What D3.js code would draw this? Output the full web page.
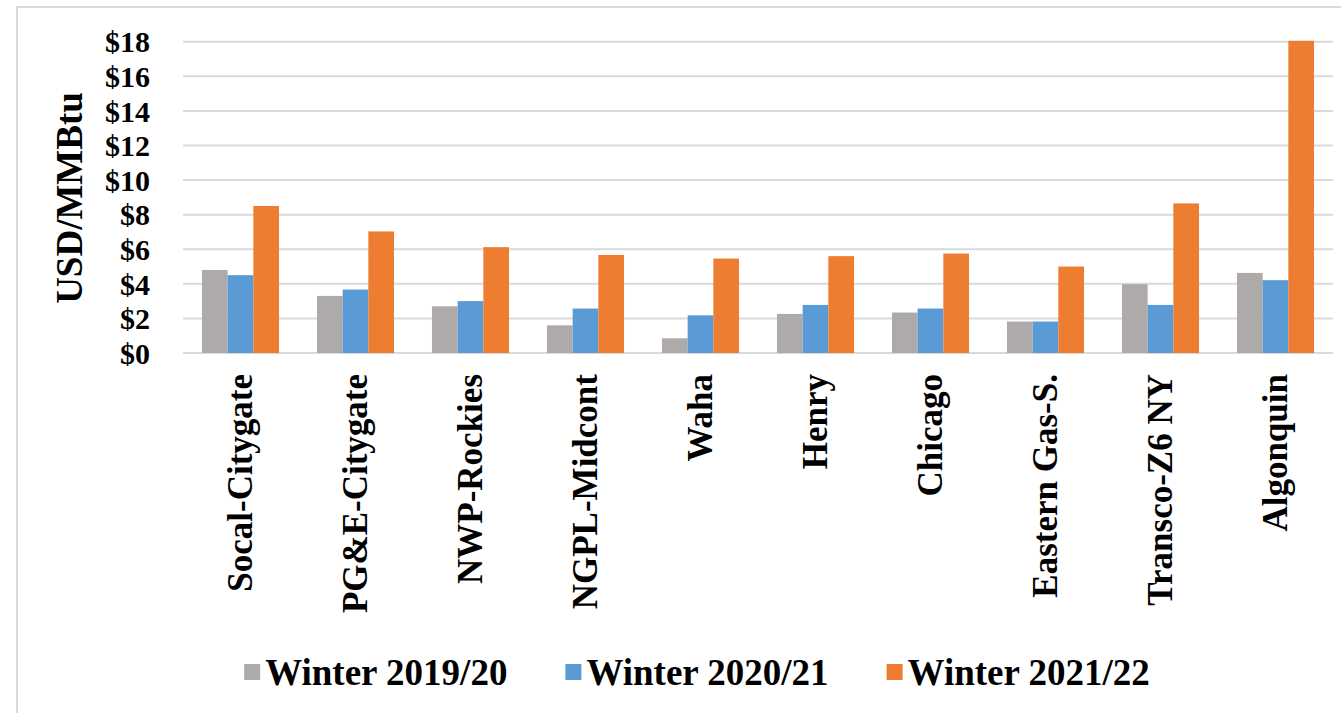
<!DOCTYPE html>
<html lang="en">
<head>
  <meta charset="UTF-8">
  <title>Winter gas prices by hub</title>
  <style>
    body { margin: 0; overflow: hidden; background: #fff; }
    svg { display: block; }
    text { font-family: "Liberation Serif", "Times New Roman", serif; font-weight: bold; fill: #000; }
    .grid line { stroke: #d9d9d9; stroke-width: 2; }
  </style>
  <script src="https://d3js.org/d3.v7.min.js"></script>
</head>
<body>
  <svg id="chart"></svg>
  <script>
    const width = 1341;
    const height = 713;

    const hubs = ["Socal-Citygate", "PG&E-Citygate", "NWP-Rockies", "NGPL-Midcont", "Waha",
                  "Henry", "Chicago", "Eastern Gas-S.", "Transco-Z6 NY", "Algonquin"];
    const seriesNames = ["Winter 2019/20", "Winter 2020/21", "Winter 2021/22"];
    const winter1920 = [4.8, 3.3, 2.7, 1.6, 0.85, 2.26, 2.34, 1.82, 3.98, 4.63];
    const winter2021 = [4.5, 3.67, 3.0, 2.57, 2.18, 2.78, 2.57, 1.82, 2.78, 4.21];
    const winter2122 = [8.5, 7.03, 6.12, 5.67, 5.46, 5.6, 5.75, 5.0, 8.65, 18.05];
    const yTicks = [0, 2, 4, 6, 8, 10, 12, 14, 16, 18];
    const colors = ["#aeaaaa", "#5b9bd5", "#ed7d31"];

    const series = [winter1920, winter2021, winter2122];

    const svg = d3.select("#chart")
      .attr("width", width)
      .attr("height", height);

    // outer chart frame
    svg.append("rect")
      .attr("x", 17).attr("y", 7)
      .attr("width", width + 10).attr("height", height + 10)
      .attr("fill", "none")
      .attr("stroke", "#d9d9d9")
      .attr("stroke-width", 2);

    const x = d3.scaleBand()
      .domain(hubs)
      .range([183, 1333])
      .paddingInner(0.33)
      .paddingOuter(0.165);

    const xInner = d3.scaleBand()
      .domain(d3.range(series.length))
      .range([0, x.bandwidth()]);

    const y = d3.scaleLinear()
      .domain([0, 18])
      .range([353, 41.7]);

    // gridlines
    svg.append("g")
      .attr("class", "grid")
      .selectAll("line")
      .data(yTicks)
      .join("line")
      .attr("x1", 183)
      .attr("x2", 1333)
      .attr("y1", d => y(d))
      .attr("y2", d => y(d));

    // y axis labels
    const yAxis = svg.append("g")
      .attr("transform", "translate(150,0)")
      .call(d3.axisLeft(y).tickValues(yTicks).tickFormat(d => "$" + d).tickSize(0).tickPadding(0));
    yAxis.select(".domain").remove();
    yAxis.selectAll("text")
      .attr("font-size", 30)
      .attr("font-family", null)
      .attr("dy", "0.34em");

    svg.append("text")
      .attr("transform", "translate(82,198) rotate(-90)")
      .attr("text-anchor", "middle")
      .attr("font-size", 37)
      .text("USD/MMBtu");

    // bars
    const groups = svg.append("g")
      .selectAll("g")
      .data(series)
      .join("g")
      .attr("fill", (d, i) => colors[i]);

    groups.selectAll("rect")
      .data((d, i) => d.map((v, j) => ({ hub: hubs[j], value: v, s: i })))
      .join("rect")
      .attr("x", d => x(d.hub) + xInner(d.s))
      .attr("width", xInner.bandwidth())
      .attr("y", d => y(d.value))
      .attr("height", d => y(0) - y(d.value));

    // category labels
    svg.append("g")
      .selectAll("text")
      .data(hubs)
      .join("text")
      .attr("transform", d => `translate(${x(d) + x.bandwidth() / 2},374) rotate(-90)`)
      .attr("text-anchor", "end")
      .attr("dy", "0.33em")
      .attr("font-size", 35)
      .text(d => d);

    // legend
    const legend = svg.append("g");
    const items = legend.selectAll("g")
      .data(seriesNames)
      .join("g");
    items.append("rect")
      .attr("width", 16).attr("height", 16)
      .attr("y", -8)
      .attr("fill", (d, i) => colors[i]);
    items.append("text")
      .attr("x", 21)
      .attr("dy", "0.35em")
      .attr("font-size", 37)
      .text(d => d);

    const gap = 58;
    let cursor = 0;
    const positions = [];
    items.each(function() {
      const w = 21 + this.querySelector("text").getComputedTextLength();
      positions.push(cursor);
      cursor += w + gap;
    });
    const total = cursor - gap;
    const start = 697 - total / 2;
    items.attr("transform", (d, i) => `translate(${start + positions[i]},672)`);
  </script>
</body>
</html>
